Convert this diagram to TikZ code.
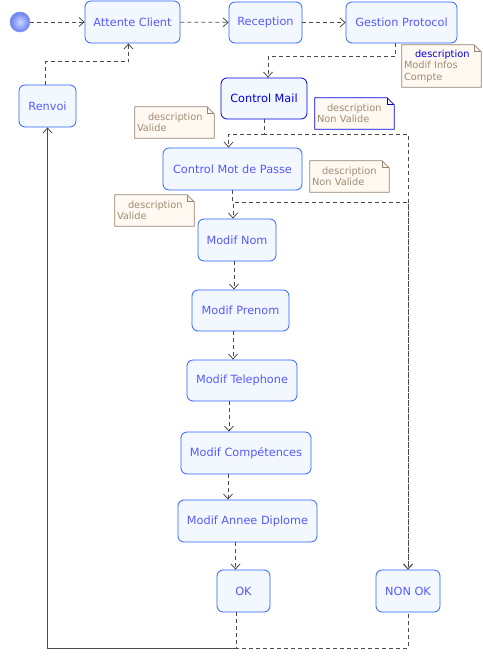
\documentclass[tikz,border=0pt]{standalone}
\usepackage{fontspec}
\setmainfont{DejaVu Sans}
\usetikzlibrary{arrows.meta}

\definecolor{actbrd}{RGB}{45,100,255}
\definecolor{acttxt}{RGB}{85,90,255}
\definecolor{actfill}{RGB}{243,248,255}
\definecolor{mailbrd}{RGB}{0,0,225}
\definecolor{lnk}{RGB}{75,75,75}
\definecolor{notebrd}{RGB}{150,130,110}
\definecolor{notefill}{RGB}{255,249,242}
\definecolor{notetxt}{RGB}{160,140,115}
\definecolor{ballin}{RGB}{205,215,255}
\definecolor{ballout}{RGB}{105,125,240}

% folded corner for a note node
\newcommand\drawnote[2]{%
  \fill[white] ([xshift=-7pt]#1.north east) -- (#1.north east) -- ([yshift=-7pt]#1.north east) -- cycle;
  \draw[#2] (#1.south west) -- (#1.north west) -- ([xshift=-7pt]#1.north east)
    -- ([yshift=-7pt]#1.north east) -- (#1.south east) -- cycle;
  \draw[#2] ([xshift=-7pt]#1.north east) -- ([xshift=-7pt,yshift=-7pt]#1.north east)
    -- ([yshift=-7pt]#1.north east);
}

\begin{document}
\begin{tikzpicture}[
x=1pt, y=-1pt,
act/.style = {draw=actbrd,fill=actfill,text=acttxt,rounded corners=6pt,line width=0.8pt,
  minimum height=42pt,inner sep=0pt,font=\fontsize{11.3}{13}\selectfont},
note/.style = {fill=notefill,text=notetxt,text width=75pt,align=left,inner sep=2pt,
  minimum height=31pt,font=\fontsize{9.8}{11.5}\selectfont},
notel/.style = {draw=notebrd,line width=0.8pt},
flow/.style = {draw=lnk,line width=0.8pt,dash pattern=on 4pt off 3pt,
  -{Straight Barb[length=5pt,width=9pt]}},
dsh/.style = {draw=lnk,line width=0.8pt,dash pattern=on 4pt off 3pt},
back/.style = {draw=lnk,line width=0.8pt,-{Straight Barb[length=5pt,width=9pt]}}
]
  \useasboundingbox[fill=white] (0,0) rectangle (482,660);

  \node[circle,minimum size=20pt,inner sep=0pt,draw=ballout!80!white,line width=0.5pt,
    inner color=ballin,outer color=ballout] (init) at (20,22) {};
  \node[act,minimum width=95pt] (attente) at (132.5,22) {Attente Client};
  \node[act,minimum width=73pt,minimum height=41pt] (reception) at (265.5,22.5) {Reception};
  \node[act,minimum width=111pt,minimum height=41pt] (gestion) at (401.5,22.5) {Gestion Protocol};
  \node[act,draw=mailbrd,text=mailbrd,minimum width=86pt,minimum height=41pt] (cmail) at (264,98.5) {Control Mail};
  \node[act,minimum width=139pt] (cmdp) at (232.5,169) {Control Mot de Passe};
  \node[act,minimum width=78pt] (nom) at (237,240) {Modif Nom};
  \node[act,minimum width=97pt,minimum height=41pt] (prenom) at (240.5,310.5) {Modif Prenom};
  \node[act,minimum width=110pt,minimum height=41pt] (tel) at (242,380.5) {Modif Telephone};
  \node[act,minimum width=130pt] (comp) at (246,453) {Modif Compétences};
  \node[act,minimum width=139pt] (annee) at (247.5,521) {Modif Annee Diplome};
  \node[act,minimum width=53pt] (ok) at (243.5,591) {OK};
  \node[act,minimum width=64pt] (nonok) at (408,591) {NON OK};
  \node[act,minimum width=57pt] (renvoi) at (47.5,106) {Renvoi};

  \node[note,minimum height=42pt] (ninfos) at (441.5,66)
    {\hspace*{11pt}\textcolor{mailbrd}{description}\\Modif Infos\\Compte};
  \drawnote{ninfos}{notel}
  \node[note] (nmail) at (354.5,113.5) {\hspace*{10pt}description\\Non Valide};
  \drawnote{nmail}{notel,draw=mailbrd}
  \node[note] (vmail) at (174.5,122.5) {\hspace*{11pt}description\\Valide};
  \drawnote{vmail}{notel}
  \node[note] (nmdp) at (349.5,176.5) {\hspace*{10pt}description\\Non Valide};
  \drawnote{nmdp}{notel}
  \node[note] (vmdp) at (154.5,210.5) {\hspace*{11pt}description\\Valide};
  \drawnote{vmdp}{notel}

  \path[flow] (init) -- (attente);
  \path[flow] (attente) -- (reception);
  \path[flow] (reception) -- (gestion);
  \path[flow] ([xshift=-6pt]gestion.south) -- ++(0,13) -| ([xshift=4pt]cmail.north);
  \path[flow] (cmail.south) -- ++(0,15) -| ([xshift=-4pt]cmdp.north);
  \path[flow] (cmail.south) -- ++(0,15) -| (nonok.north);
  \path[flow] (cmdp.south) -- ++(0,12) -| ([xshift=-4pt]nom.north);
  \path[flow] (cmdp.south) -- ++(0,12) -| (nonok.north);

  \foreach \a/\b/\s in {nom/prenom/-3,prenom/tel/-7.5,tel/comp/-13,comp/annee/-18,annee/ok/-12}
    \path[flow] ([xshift=\s pt]\a.south) -- ([xshift=\s pt]\a.south |- \b.north);

  \coordinate (bot) at ([xshift=-7.5pt,yshift=-36pt]ok.south);
  \path[dsh] ([xshift=-7.5pt]ok.south) -- (bot) -| (nonok.south);
  \path[back] (bot) -| (renvoi.south);
  \path[flow] ([xshift=-2pt]renvoi.north) -- ++(0,-23) -| ([xshift=-4pt]attente.south);

\end{tikzpicture}
\end{document}
